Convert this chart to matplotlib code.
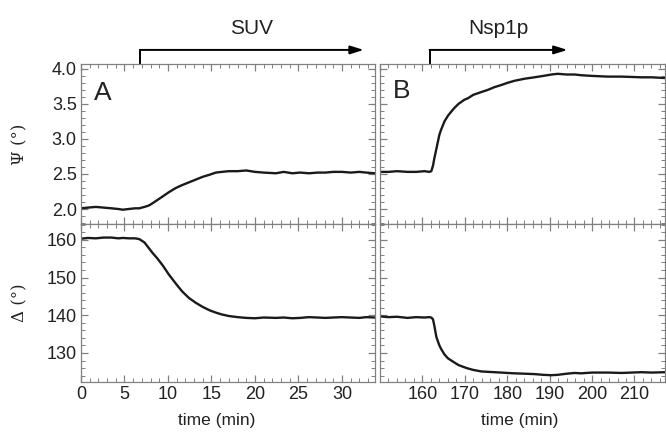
import numpy as np
import matplotlib.pyplot as plt
from matplotlib.ticker import MultipleLocator
import matplotlib.transforms as mtransforms

plt.rcParams['font.family'] = ['Liberation Sans', 'DejaVu Sans']

# panel A (SUV), time in min
t_a = [0, 0.8, 1.7, 2.6, 3.5, 4.3, 4.8, 5.5, 6.2, 6.7, 7.3, 7.8, 8.2, 8.8, 9.4, 10.1,
       10.9, 11.6, 12.4, 13.2, 14.0, 14.8, 15.5, 16.2, 17.0, 18.0, 19.0, 20.0, 21.0,
       22.4, 23.3, 24.3, 25.2, 26.2, 27.2, 28.1, 29.0, 30.0, 31.0, 32.0, 32.8, 33.8]
psi_a = [2.01, 2.02, 2.03, 2.02, 2.01, 2.00, 1.99, 2.00, 2.01, 2.01, 2.03, 2.05, 2.08,
         2.13, 2.18, 2.24, 2.30, 2.34, 2.38, 2.42, 2.46, 2.49, 2.52, 2.53, 2.54, 2.54,
         2.55, 2.53, 2.52, 2.51, 2.53, 2.51, 2.52, 2.51, 2.52, 2.52, 2.53, 2.53, 2.52,
         2.53, 2.52, 2.51]
delta_a = [160.3, 160.5, 160.4, 160.6, 160.6, 160.4, 160.5, 160.4, 160.4, 160.2, 159.3,
           157.8, 156.6, 155.0, 153.2, 150.8, 148.4, 146.4, 144.6, 143.3, 142.2, 141.3,
           140.7, 140.2, 139.8, 139.5, 139.3, 139.2, 139.4, 139.3, 139.4, 139.2, 139.3,
           139.5, 139.4, 139.3, 139.4, 139.5, 139.4, 139.3, 139.5, 139.4]

# panel B (Nsp1p)
t_b = [150, 152, 154, 156.5, 158.5, 160.5, 161.6, 162.1, 162.5, 162.8, 163.3, 164.0,
       164.4, 165.2, 166.0, 166.8, 167.5, 168.5, 169.9, 170.7, 172.0, 173.9, 175.4,
       177.0, 178.6, 180.0, 181.7, 184.1, 186.4, 188.5, 190.4, 191.9, 194.0, 195.9,
       197.4, 200.0, 203.7, 207.0, 211.6, 214.0, 217.2]
psi_b = [2.53, 2.53, 2.54, 2.53, 2.53, 2.54, 2.53, 2.54, 2.62, 2.72, 2.86, 3.06, 3.13,
         3.25, 3.33, 3.39, 3.44, 3.50, 3.56, 3.58, 3.63, 3.67, 3.70, 3.74, 3.77, 3.80,
         3.83, 3.86, 3.88, 3.90, 3.92, 3.93, 3.92, 3.92, 3.91, 3.90, 3.89, 3.89, 3.88,
         3.88, 3.87]
delta_b = [139.7, 139.5, 139.6, 139.3, 139.5, 139.4, 139.5, 139.4, 138.9, 137.3, 134.2,
           132.0, 131.1, 129.6, 128.6, 128.0, 127.5, 126.8, 126.2, 125.9, 125.5, 125.1,
           125.0, 124.9, 124.8, 124.7, 124.6, 124.5, 124.4, 124.2, 124.1, 124.2, 124.5,
           124.7, 124.6, 124.8, 124.8, 124.7, 124.9, 124.8, 124.9]

xticks_a = [0, 5, 10, 15, 20, 25, 30]
xticks_b = [160, 170, 180, 190, 200, 210]
psi_ticks = [2.0, 2.5, 3.0, 3.5, 4.0]
delta_ticks = [130, 140, 150, 160]

txt = '#222222'
grey = '#808080'
lc = '#1a1a1a'

fig = plt.figure(figsize=(6.66, 4.33), dpi=100)
W, H = 666, 433


def box(x0, y0, x1, y1):
    return [x0 / W, 1 - y1 / H, (x1 - x0) / W, (y1 - y0) / H]


ax_a1 = fig.add_axes(box(81, 64, 375, 224))
ax_a2 = fig.add_axes(box(81, 224, 375, 382))
ax_b1 = fig.add_axes(box(380, 64, 665, 224))
ax_b2 = fig.add_axes(box(380, 224, 665, 382))

ax_a1.plot(t_a, psi_a, color=lc, lw=1.7)
ax_a2.plot(t_a, delta_a, color=lc, lw=1.7)
ax_b1.plot(t_b, psi_b, color=lc, lw=1.7)
ax_b2.plot(t_b, delta_b, color=lc, lw=1.7)

for ax in (ax_a1, ax_a2):
    ax.set_xlim(0, 33.8)
    ax.xaxis.set_major_locator(MultipleLocator(5))
    ax.xaxis.set_minor_locator(MultipleLocator(1))
for ax in (ax_b1, ax_b2):
    ax.set_xlim(150, 217.2)
    ax.xaxis.set_major_locator(MultipleLocator(10))
    ax.xaxis.set_minor_locator(MultipleLocator(2))
for ax in (ax_a1, ax_b1):
    ax.set_ylim(1.786, 4.07)
    ax.set_yticks(psi_ticks)
    ax.yaxis.set_minor_locator(MultipleLocator(0.1))
    ax.tick_params(labelbottom=False)
for ax in (ax_a2, ax_b2):
    ax.set_ylim(122.3, 164.2)
    ax.set_yticks(delta_ticks)
    ax.yaxis.set_minor_locator(MultipleLocator(2))

ax_a2.set_xticks(xticks_a)
ax_b2.set_xticks(xticks_b)
ax_b1.tick_params(labelleft=False)
ax_b2.tick_params(labelleft=False)

for ax in (ax_a1, ax_a2, ax_b1, ax_b2):
    for s in ax.spines.values():
        s.set_color(grey)
        s.set_linewidth(0.9)
    ax.tick_params(which='both', direction='in', top=True, right=True,
                   color=grey, labelcolor=txt, labelsize=13)
    ax.tick_params(which='major', length=5, width=0.9, pad=3)
    ax.tick_params(which='minor', length=3, width=0.7)

ax_a2.set_xlabel('time (min)', fontsize=12.5, color=txt)
ax_b2.set_xlabel('time (min)', fontsize=12.5, color=txt)
ax_a2.xaxis.set_label_coords(0.463, -0.195)
ax_b2.xaxis.set_label_coords(0.49, -0.195)
fig.text(20 / W, 1 - 144 / H, 'Ψ (°)', rotation=90, ha='center', va='center',
         fontsize=12, color=txt, family='DejaVu Serif')
fig.text(20 / W, 1 - 303 / H, 'Δ (°)', rotation=90, ha='center', va='center',
         fontsize=12, color=txt, family='DejaVu Serif')

ax_a1.text(0.075, 0.82, 'A', transform=ax_a1.transAxes, fontsize=19, color=txt,
           ha='center', va='center')
ax_b1.text(0.075, 0.83, 'B', transform=ax_b1.transAxes, fontsize=19, color=txt,
           ha='center', va='center')

# injection arrows above the top panels
for ax, t0, t1, label in ((ax_a1, 6.8, 32.5, 'SUV'), (ax_b1, 161.7, 194.2, 'Nsp1p')):
    tr = mtransforms.blended_transform_factory(ax.transData, ax.transAxes)
    ax.plot([t0, t0], [1.0, 1.088], transform=tr, color='black', lw=1.4,
            clip_on=False)
    ax.annotate('', xy=(t1, 1.088), xytext=(t0, 1.088), xycoords=tr,
                textcoords=tr, annotation_clip=False,
                arrowprops=dict(arrowstyle='-|>,head_length=0.8,head_width=0.25',
                                color='black', lw=1.4, shrinkA=0, shrinkB=0))
    ax.text((t0 + t1) / 2, 1.225, label, transform=tr, ha='center', va='center',
            fontsize=15, color=txt)

fig.savefig('out.png', dpi=100)
